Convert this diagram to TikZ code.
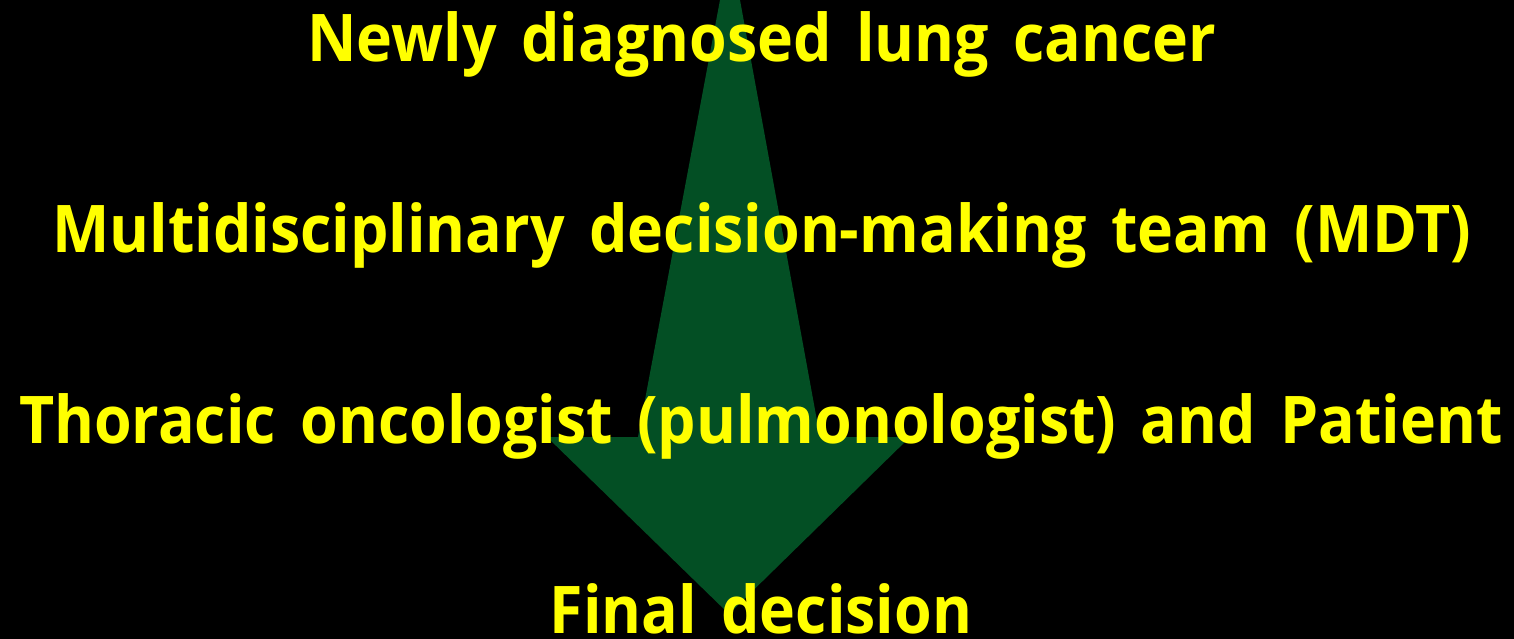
\documentclass[tikz,border=0pt]{standalone}
\usepackage{fontspec}
\setmainfont{Open Sans}[FakeStretch=0.925,WordSpace=1.55]
\usepackage{tikz}
\usetikzlibrary{positioning}
\definecolor{bg}{HTML}{000000}
\definecolor{flow}{HTML}{034F24}
\definecolor{txtyellow}{HTML}{FFFF00}
\tikzset{step label/.style={text=txtyellow,font=\fontsize{18.7}{22}\selectfont\bfseries,anchor=base,inner sep=0pt}}
\begin{document}
\begin{tikzpicture}[x=0.01cm,y=-0.01cm]
  \fill[bg] (0,0) rectangle (1514,639);
  \useasboundingbox (0,0) rectangle (1514,639);
  % big arrow behind the text
  \fill[flow] (720,0) -- (638,437) -- (547,437) -- (729,614) -- (910,437) -- (820,437) -- (740,0) -- cycle;
  \node[step label] (new) at (762,61) {Newly diagnosed lung cancer};
  \node[step label] (mdt) at (762,252) {Multidisciplinary decision-making team (MDT)};
  \node[step label] (onc) at (761,443) {Thoracic oncologist (pulmonologist) and Patient};
  \node[step label] (fin) at (761,633) {Final decision};
\end{tikzpicture}
\end{document}
